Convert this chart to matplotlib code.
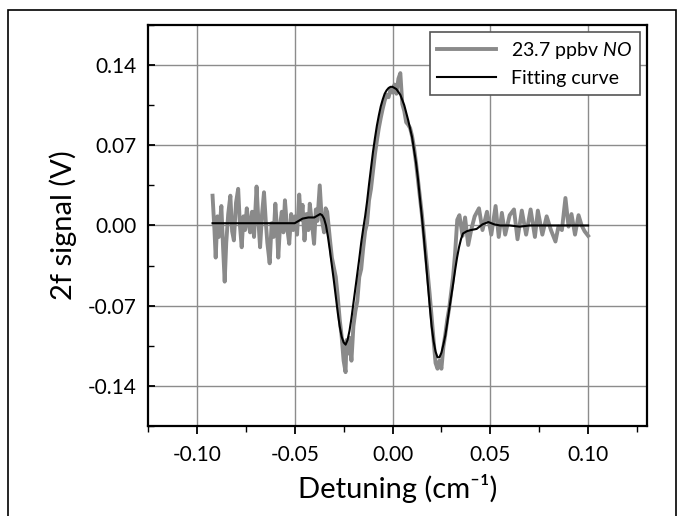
import numpy as np
import matplotlib.pyplot as plt
from matplotlib.patches import Rectangle
from matplotlib.ticker import MultipleLocator

plt.rcParams['font.family'] = ['Lato', 'DejaVu Sans']
plt.rcParams['mathtext.fontset'] = 'custom'
plt.rcParams['mathtext.rm'] = 'Lato'
plt.rcParams['mathtext.it'] = 'Lato:italic'

# measured 2f signal (gray, noisy)
x_meas = [-0.0920, -0.0910, -0.0904, -0.0895, -0.0888, -0.0875, -0.0866, -0.0858,
          -0.0850, -0.0840, -0.0829, -0.0820, -0.0811, -0.0800, -0.0789, -0.0780,
          -0.0771, -0.0762, -0.0754, -0.0745, -0.0736, -0.0728, -0.0718, -0.0708,
          -0.0695, -0.0686, -0.0677, -0.0667, -0.0657, -0.0648, -0.0640, -0.0628,
          -0.0618, -0.0608, -0.0599, -0.0590, -0.0584, -0.0575, -0.0566, -0.0558,
          -0.0550, -0.0540, -0.0528, -0.0518, -0.0508, -0.0498, -0.0488, -0.0477,
          -0.0468, -0.0460, -0.0450, -0.0440, -0.0430, -0.0423, -0.0412, -0.0401,
          -0.0392, -0.0384, -0.0372, -0.0362, -0.0350, -0.0342, -0.0334, -0.0320,
          -0.0310, -0.0290, -0.0280, -0.0270, -0.0260, -0.0250, -0.0240, -0.0235,
          -0.0230, -0.0220, -0.0210, -0.0200, -0.0190, -0.0180, -0.0170, -0.0160,
          -0.0150, -0.0140, -0.0130, -0.0120, -0.0110, -0.0100, -0.0090, -0.0080,
          -0.0070, -0.0060, -0.0050, -0.0040, -0.0030, -0.0020, -0.0010, 0.0000,
          0.0010, 0.0020, 0.0030, 0.0040, 0.0050, 0.0060, 0.0070, 0.0080,
          0.0090, 0.0100, 0.0110, 0.0120, 0.0130, 0.0140, 0.0150, 0.0160,
          0.0170, 0.0180, 0.0190, 0.0200, 0.0210, 0.0220, 0.0230, 0.0240,
          0.0250, 0.0260, 0.0270, 0.0280, 0.0290, 0.0300, 0.0310, 0.0320,
          0.0331, 0.0342, 0.0358, 0.0371, 0.0387, 0.0402, 0.0420, 0.0442,
          0.0460, 0.0483, 0.0505, 0.0527, 0.0543, 0.0559, 0.0576, 0.0599,
          0.0621, 0.0639, 0.0661, 0.0683, 0.0706, 0.0728, 0.0743, 0.0766,
          0.0788, 0.0810, 0.0833, 0.0848, 0.0866, 0.0884, 0.0900, 0.0915,
          0.0933, 0.0951, 0.0967, 0.0982, 0.1000]
y_meas = [0.026, -0.005, -0.028, 0.008, -0.010, 0.017, -0.020, -0.049,
          -0.015, 0.010, 0.026, -0.005, -0.013, 0.020, 0.032, 0.000,
          -0.019, 0.008, -0.004, 0.015, 0.002, -0.006, 0.012, -0.010,
          0.034, 0.005, -0.019, 0.010, 0.029, 0.004, -0.015, -0.033,
          0.002, -0.010, 0.019, -0.005, -0.028, 0.000, 0.012, -0.006,
          0.022, 0.000, -0.016, 0.010, -0.004, 0.008, -0.008, 0.027,
          0.005, 0.018, -0.013, 0.010, -0.004, 0.019, 0.002, -0.016,
          0.014, 0.004, 0.035, 0.006, -0.006, 0.015, 0.012, -0.012,
          -0.028, -0.045, -0.062, -0.082, -0.097, -0.118, -0.128, -0.100,
          -0.112, -0.098, -0.118, -0.088, -0.075, -0.066, -0.045, -0.038,
          -0.020, -0.005, 0.002, 0.022, 0.032, 0.047, 0.062, 0.074,
          0.085, 0.094, 0.102, 0.109, 0.114, 0.112, 0.119, 0.116,
          0.123, 0.115, 0.128, 0.133, 0.106, 0.100, 0.090, 0.088,
          0.085, 0.078, 0.068, 0.055, 0.040, 0.025, 0.010, -0.008,
          -0.025, -0.042, -0.060, -0.080, -0.100, -0.120, -0.125, -0.118,
          -0.125, -0.106, -0.095, -0.082, -0.072, -0.058, -0.044, -0.024,
          0.005, 0.009, -0.009, 0.007, -0.017, -0.004, 0.008, 0.015,
          -0.004, 0.012, -0.008, 0.017, -0.010, 0.011, -0.008, 0.009,
          0.014, -0.012, 0.013, -0.008, 0.014, -0.010, 0.013, -0.008,
          0.008, -0.004, -0.014, -0.001, -0.004, 0.024, -0.001, 0.010,
          -0.008, 0.009, 0.000, -0.005, -0.009]

# fitting curve (black)
x_fit = [-0.092, -0.080, -0.070, -0.060, -0.050, -0.048, -0.046, -0.043,
         -0.040, -0.038, -0.037, -0.036, -0.035, -0.034, -0.033, -0.032,
         -0.031, -0.030, -0.029, -0.028, -0.027, -0.026, -0.025, -0.024,
         -0.023, -0.022, -0.021, -0.020, -0.019, -0.018, -0.017, -0.016,
         -0.015, -0.014, -0.013, -0.012, -0.011, -0.010, -0.009, -0.008,
         -0.007, -0.006, -0.005, -0.004, -0.003, -0.002, -0.001, 0.000,
         0.002, 0.004, 0.006, 0.008, 0.010, 0.012, 0.013, 0.014,
         0.015, 0.016, 0.017, 0.018, 0.019, 0.020, 0.021, 0.022,
         0.023, 0.024, 0.025, 0.026, 0.027, 0.028, 0.029, 0.030,
         0.031, 0.032, 0.033, 0.034, 0.035, 0.036, 0.038, 0.040,
         0.043, 0.046, 0.049, 0.052, 0.055, 0.060, 0.065, 0.070,
         0.080, 0.090, 0.100]
y_fit = [0.002, 0.002, 0.002, 0.002, 0.002, 0.004, 0.006, 0.007,
         0.007, 0.009, 0.010, 0.009, 0.006, 0.000, -0.010, -0.022,
         -0.035, -0.048, -0.062, -0.076, -0.088, -0.097, -0.102, -0.104,
         -0.100, -0.092, -0.081, -0.068, -0.055, -0.042, -0.029, -0.015,
         -0.003, 0.008, 0.021, 0.036, 0.050, 0.064, 0.076, 0.087,
         0.096, 0.104, 0.110, 0.115, 0.118, 0.120, 0.121, 0.121,
         0.119, 0.114, 0.105, 0.092, 0.077, 0.055, 0.041, 0.024,
         0.008, -0.010, -0.030, -0.050, -0.070, -0.088, -0.101, -0.110,
         -0.115, -0.115, -0.111, -0.104, -0.096, -0.085, -0.073, -0.062,
         -0.051, -0.039, -0.028, -0.019, -0.012, -0.007, -0.005, -0.004,
         -0.003, 0.001, 0.003, 0.001, 0.000, 0.000, -0.001, 0.000,
         0.000, 0.000, 0.000]

fig = plt.figure(figsize=(6.83, 5.16), dpi=100)
ax = fig.add_axes([0.2167, 0.1744, 0.7303, 0.7772])

ax.plot(x_meas, y_meas, color='#8a8a8a', lw=2.8, label='23.7 ppbv $\\it{NO}$')
ax.plot(x_fit, y_fit, color='black', lw=1.5, label='Fitting curve')

ax.set_xlim(-0.125, 0.13)
ax.set_ylim(-0.175, 0.175)
ax.set_xticks([-0.10, -0.05, 0.00, 0.05, 0.10])
ax.set_yticks([-0.14, -0.07, 0.00, 0.07, 0.14])
ax.xaxis.set_minor_locator(MultipleLocator(0.025))
ax.yaxis.set_minor_locator(MultipleLocator(0.035))
ax.set_xticklabels(['-0.10', '-0.05', '0.00', '0.05', '0.10'])
ax.set_yticklabels(['-0.14', '-0.07', '0.00', '0.07', '0.14'])
ax.tick_params(axis='x', which='major', direction='out', length=6, width=1.3, labelsize=15, pad=8)
ax.tick_params(axis='x', which='minor', direction='out', length=4, width=1.0)
ax.tick_params(axis='y', which='major', direction='in', length=5, width=1.3, labelsize=15, pad=8)
ax.tick_params(axis='y', which='minor', direction='in', length=4, width=1.0)
ax.grid(True, which='major', color='#8c8c8c', lw=1.0)
for s in ax.spines.values():
    s.set_linewidth(1.6)

ax.set_xlabel('Detuning (cm\u207b\u00b9)', fontsize=21, labelpad=6)
ax.set_ylabel('2f signal (V)', fontsize=21, labelpad=8)

leg = ax.legend(loc='upper right', fontsize=14, fancybox=False, framealpha=1,
                edgecolor='#555555', handlelength=3.0, borderaxespad=0.35)
leg.get_frame().set_linewidth(1.2)

# outer frame around the figure
fig.patches.append(Rectangle((0.0117, -0.05), 0.978, 1.031, transform=fig.transFigure,
                             fill=False, edgecolor='black', lw=1.2))

fig.savefig('out.png', dpi=100)
